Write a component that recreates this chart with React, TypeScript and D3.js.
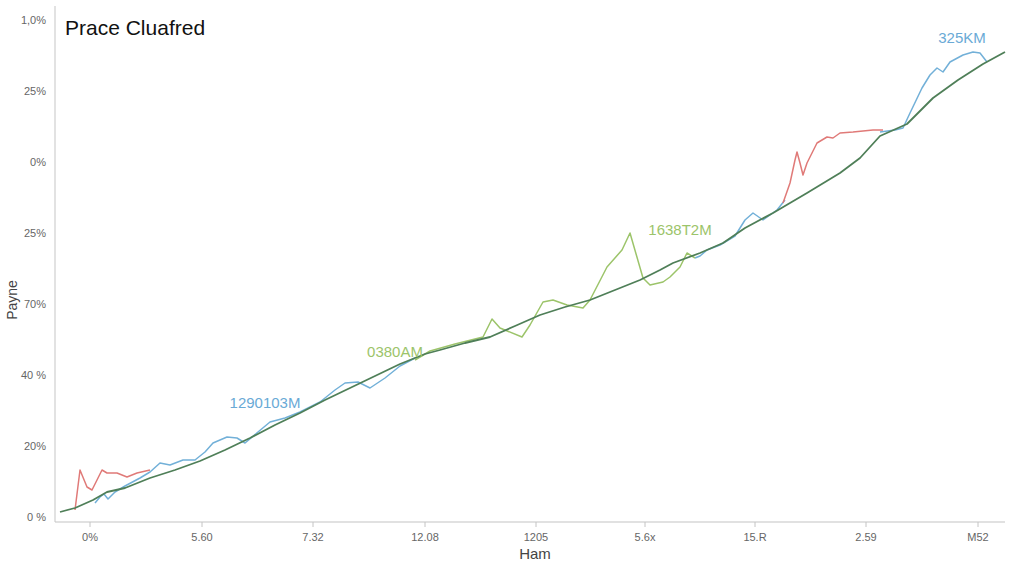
import React from "react";
import * as d3 from "d3";

const W = 1024;
const H = 576;

const title = "Prace Cluafred";
const xTitle = "Ham";
const yTitle = "Payne";

const xTickValues = [33, 145, 256, 368, 479, 588, 698, 809, 921];
const xTickLabels = ["0%", "5.60", "7.32", "12.08", "1205", "5.6x", "15.R", "2.59", "M52"];
const yTickValues = [0, 71, 142, 213, 284, 355, 426, 497];
const yTickLabels = ["0 %", "20%", "40 %", "70%", "25%", "0%", "25%", "1,0%"];

const trend: [number, number][] = [
  [3, 5], [18, 9], [36, 17], [50, 25], [68, 29], [93, 39], [118, 47], [143, 56],
  [168, 67], [193, 79], [218, 92], [243, 104], [268, 117], [293, 129], [318, 141],
  [343, 153], [368, 163], [383, 167], [408, 174], [433, 180], [458, 191], [483, 202],
  [508, 210], [533, 217], [558, 227], [583, 237], [603, 247], [616, 254], [643, 264],
  [666, 274], [688, 289], [716, 304], [733, 314], [750, 324], [783, 344], [803, 359],
  [823, 381], [850, 393], [876, 419], [901, 437], [926, 453], [948, 465],
];

const blue1: [number, number][] = [
  [38, 14], [43, 20], [47, 23], [51, 18], [58, 25], [68, 31], [83, 39], [93, 45],
  [103, 54], [113, 52], [126, 57], [138, 57], [148, 65], [156, 74], [170, 80],
  [180, 79], [188, 74], [201, 85], [213, 95], [228, 99], [243, 105], [263, 115],
  [278, 127], [288, 134], [301, 135], [313, 129], [328, 139], [343, 151], [358, 159],
];

const green1: [number, number][] = [
  [358, 157], [373, 166], [398, 173], [426, 180], [435, 198], [443, 189], [465, 180],
  [473, 192], [486, 215], [496, 217], [510, 212], [526, 209], [533, 217], [550, 250],
  [565, 267], [573, 284], [586, 239], [593, 232], [606, 235], [613, 240], [623, 250],
  [630, 264], [638, 259],
];

const blue2: [number, number][] = [
  [638, 259], [643, 261], [650, 267], [663, 272], [678, 281], [688, 297], [696, 304],
  [706, 297], [720, 307], [728, 317],
];

const red1: [number, number][] = [
  [18, 7], [23, 47], [30, 30], [35, 27], [45, 47], [50, 44], [60, 44], [70, 40],
  [80, 44], [93, 47],
];

const red2: [number, number][] = [
  [726, 314], [733, 334], [738, 357], [740, 365], [743, 354], [746, 342], [750, 354],
  [760, 374], [770, 380], [776, 379], [783, 384], [796, 385], [816, 387], [826, 387],
];

const blue3: [number, number][] = [
  [823, 385], [838, 387], [846, 389], [853, 404], [865, 429], [873, 442], [880, 449],
  [886, 445], [893, 455], [906, 462], [916, 465], [923, 464], [930, 455],
];

const labels: { text: string; x: number; y: number; color: string }[] = [
  { text: "1290103M", x: 208, y: 114, color: "#6aaad6" },
  { text: "0380AM", x: 338, y: 165, color: "#9cc46a" },
  { text: "1638T2M", x: 623, y: 287, color: "#9cc46a" },
  { text: "325KM", x: 905, y: 479, color: "#6aaad6" },
];

export default function App() {
  const x = d3.scaleLinear().domain([0, 950]).range([57, 1007]);
  const y = d3.scaleLinear().domain([0, 500]).range([517, 17]);
  const line = d3
    .line<[number, number]>()
    .x((d) => x(d[0]))
    .y((d) => y(d[1]));

  const series: { data: [number, number][]; color: string; w: number }[] = [
    { data: blue1, color: "#72b0d8", w: 1.5 },
    { data: blue2, color: "#72b0d8", w: 1.5 },
    { data: blue3, color: "#72b0d8", w: 1.5 },
    { data: green1, color: "#9cc46a", w: 1.5 },
    { data: red1, color: "#e07a78", w: 1.5 },
    { data: red2, color: "#e07a78", w: 1.5 },
    { data: trend, color: "#4f7f58", w: 1.8 },
  ];

  const font = "'Liberation Sans', Arial, sans-serif";

  return (
    <svg
      width={W}
      height={H}
      style={{ position: "absolute", left: 0, top: 0, background: "#fff" }}
      fontFamily={font}
    >
      <rect x={0} y={0} width={W} height={H} fill="#fff" />
      {/* y axis line */}
      <line x1={55} x2={55} y1={6} y2={522} stroke="#cfcfcf" strokeWidth={1.2} />
      {/* x axis line */}
      <line x1={55} x2={1005} y1={522} y2={522} stroke="#c4c4c4" strokeWidth={1.2} />
      {xTickValues.map((v, i) => (
        <g key={"xt" + i}>
          <line x1={x(v)} x2={x(v)} y1={522} y2={527} stroke="#c4c4c4" />
          <text
            x={x(v)}
            y={541}
            textAnchor="middle"
            fontSize={11}
            fill="#666"
          >
            {xTickLabels[i]}
          </text>
        </g>
      ))}
      {yTickValues.map((v, i) => (
        <text
          key={"yt" + i}
          x={46}
          y={y(v) + 4}
          textAnchor="end"
          fontSize={11}
          fill="#666"
        >
          {yTickLabels[i]}
        </text>
      ))}
      {series.map((s, i) => (
        <path
          key={"s" + i}
          d={line(s.data) || ""}
          fill="none"
          stroke={s.color}
          strokeWidth={s.w}
          strokeLinejoin="round"
        />
      ))}
      {labels.map((l, i) => (
        <text
          key={"l" + i}
          x={x(l.x)}
          y={y(l.y) + 5}
          textAnchor="middle"
          fontSize={15}
          fill={l.color}
        >
          {l.text}
        </text>
      ))}
      <text x={65} y={35} fontSize={21} fill="#111" fontWeight={500}>
        {title}
      </text>
      <text x={535} y={559} textAnchor="middle" fontSize={15} fill="#444">
        {xTitle}
      </text>
      <text
        transform={`translate(17,300) rotate(-90)`}
        textAnchor="middle"
        fontSize={14}
        fill="#444"
      >
        {yTitle}
      </text>
    </svg>
  );
}
